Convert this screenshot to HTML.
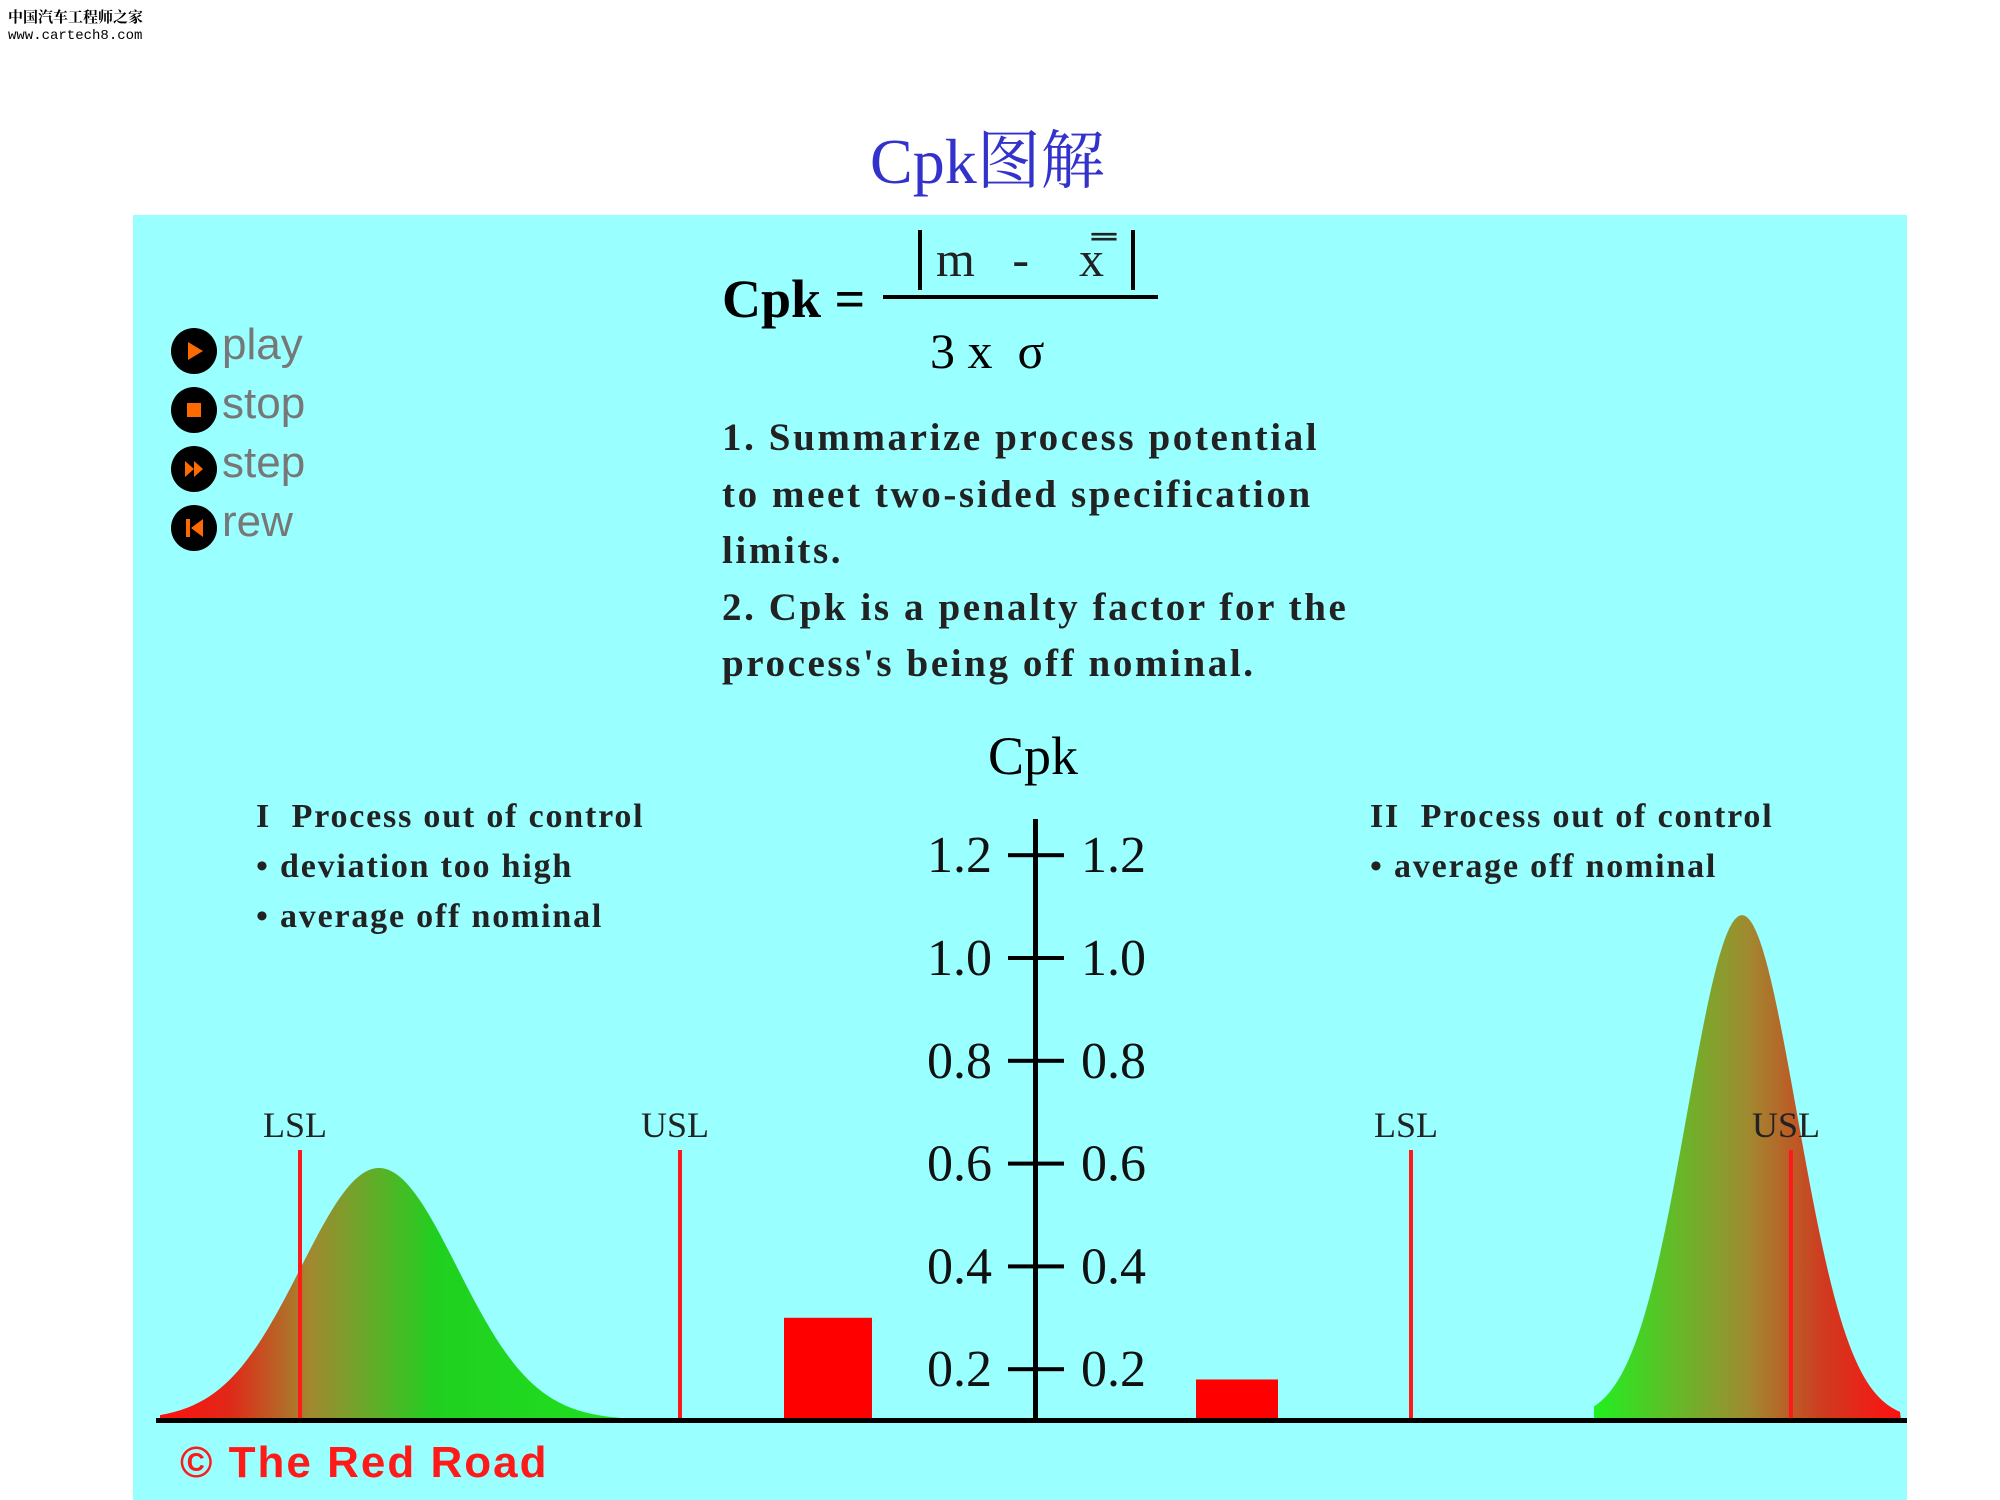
<!DOCTYPE html>
<html><head><meta charset="utf-8"><style>
body{margin:0;width:2000px;height:1500px;background:#fff;overflow:hidden;position:relative;font-family:"Liberation Serif",serif}
.t{position:absolute;white-space:nowrap}
</style></head><body>
<div class="t" style="left:8px;top:6px;font:bold 15px 'Liberation Serif','Noto Serif CJK SC',serif;color:#000">中国汽车工程师之家</div>
<div class="t" style="left:8px;top:28px;font:14px 'Liberation Mono',monospace;color:#000">www.cartech8.com</div>
<div class="t" style="left:870px;top:110px;font:64px 'Liberation Serif','Noto Serif CJK SC',serif;color:#3333cc">Cpk图解</div>
<svg width="2000" height="1500" style="position:absolute;left:0;top:0" id="s">
<defs>
<linearGradient id="gl" x1="160" x2="621" gradientUnits="userSpaceOnUse"><stop offset="0" stop-color="#ff1010"/><stop offset="0.15" stop-color="#e02818"/><stop offset="0.33" stop-color="#a08a30"/><stop offset="0.6" stop-color="#20d020"/><stop offset="1" stop-color="#20e020"/></linearGradient>
<linearGradient id="gr" x1="1594" x2="1901" gradientUnits="userSpaceOnUse"><stop offset="0" stop-color="#20f020"/><stop offset="0.5" stop-color="#a08a30"/><stop offset="0.75" stop-color="#d03a20"/><stop offset="1" stop-color="#ff1010"/></linearGradient>
</defs>
<rect x="133" y="215" width="1774" height="1285" fill="#99ffff"/>
<g id="g"></g>
</svg>
<div class="t" style="left:722px;top:268px;font:bold 54px 'Liberation Serif',serif">Cpk =</div>
<div style="position:absolute;left:918px;top:230px;width:4px;height:60px;background:#000"></div>
<div style="position:absolute;left:1131px;top:230px;width:4px;height:60px;background:#000"></div>
<div class="t" style="left:936px;top:230px;font:50px 'Liberation Serif',serif;color:#222">m &nbsp;&nbsp;- &nbsp;&nbsp;&nbsp;x̿</div>
<div style="position:absolute;left:883px;top:295px;width:275px;height:4px;background:#000"></div>
<div class="t" style="left:930px;top:322px;font:50px 'Liberation Serif',serif">3 x &nbsp;σ</div>
<div class="t" style="left:722px;top:410px;font:bold 39px/56.5px 'Liberation Serif',serif;letter-spacing:2.6px;color:#222">1. Summarize process potential<br>to meet two-sided specification<br>limits.<br>2. Cpk is a penalty factor for the<br>process's being off nominal.</div>
<div class="t" style="left:256px;top:792px;font:bold 34px/50px 'Liberation Serif',serif;letter-spacing:1.8px;color:#222">I &nbsp;Process out of control<br>• deviation too high<br>• average off nominal</div>
<div class="t" style="left:1370px;top:792px;font:bold 34px/50px 'Liberation Serif',serif;letter-spacing:1.8px;color:#222">II &nbsp;Process out of control<br>• average off nominal</div>
<div class="t" style="left:988px;top:725px;font:54px 'Liberation Serif',serif">Cpk</div>
<div class="t" style="left:180px;top:1438px;font:bold 44px 'Liberation Sans',sans-serif;letter-spacing:2px;color:#ff1a1a">© The Red Road</div>
<script>
const tickValues=[0.2,0.4,0.6,0.8,1.0,1.2];
const tickLabels=["0.2","0.4","0.6","0.8","1.0","1.2"];
const barCategories=["case-1","case-2"];
const cpkValues=[0.3,0.18];
const specLabels=["LSL","USL","LSL","USL"];
const specPositions=[300,680,1411,1791];
const controls=["play","stop","step","rew"];
const NS="http://www.w3.org/2000/svg";
const g=document.getElementById('g');
const y=v=>1472-v*514;
function el(t,a){const e=document.createElementNS(NS,t);for(const k in a)e.setAttribute(k,a[k]);g.appendChild(e);return e;}
function curve(x0,x1,mu,sd,top,fill,name){let d=`M${x0},1420`;for(let x=x0;x<=x1;x+=3){const h=(1420-top)*Math.exp(-((x-mu)**2)/(2*sd*sd));d+=` L${x},${1420-h}`;}d+=` L${x1},1420 Z`;const p=el('path',{d:d,fill:fill});

}
curve(160,621,379,78,1168,'url(#gl)','distribution-1');
curve(1594,1901,1742,55,915,'url(#gr)','distribution-2');
specPositions.forEach((x,i)=>{const l=el('rect',{x:x-2,y:1150,width:4,height:270,fill:'#ff1a1a'});


const t=el('text',{x:x-5,y:1137,'text-anchor':'middle','font-size':36,'font-family':'Liberation Serif',fill:'#222'});t.textContent=specLabels[i];

});
const barX=[[784,872],[1196,1278]];
cpkValues.forEach((v,i)=>{const b=el('rect',{x:barX[i][0],y:y(v),width:barX[i][1]-barX[i][0],height:1420-y(v),fill:'#ff0000'});

});
const base=el('rect',{x:156,y:1418,width:1751,height:5,fill:'#000'});


const ax=el('rect',{x:1033,y:819,width:5,height:603,fill:'#000'});


tickValues.forEach((v,i)=>{const yy=y(v);const tk=el('rect',{x:1008,y:yy-2,width:56,height:4,fill:'#000'});


[[992,'end'],[1081,'start']].forEach(([x,a])=>{const t=el('text',{x:x,y:yy+17,'text-anchor':a,'font-size':52,'font-family':'Liberation Serif',fill:'#111'});t.textContent=tickLabels[i];

});});
const glyph={play:'M-6,-9 L9,0 L-6,9Z',stop:'M-7,-7 H7 V7 H-7Z',step:'M-9,-8 L0,0 L-9,8Z M0,-8 L9,0 L0,8Z',rew:'M-8,-9 H-4 V9 H-8Z M9,-9 L-3,0 L9,9Z'};
controls.forEach((c,i)=>{const cy=351+i*59;const gr=document.createElementNS(NS,'g');g.appendChild(gr);


const ci=document.createElementNS(NS,'circle');ci.setAttribute('cx',194);ci.setAttribute('cy',cy);ci.setAttribute('r',23);gr.appendChild(ci);
const p=document.createElementNS(NS,'path');p.setAttribute('d',glyph[c]);p.setAttribute('transform',`translate(194,${cy})`);p.setAttribute('fill','#ff6a00');gr.appendChild(p);
const t=document.createElementNS(NS,'text');t.setAttribute('x',222);t.setAttribute('y',cy+8);t.setAttribute('font-size',44);t.setAttribute('font-family','Liberation Sans');t.setAttribute('fill','#777');t.textContent=c;gr.appendChild(t);});
</script>
</body></html>
